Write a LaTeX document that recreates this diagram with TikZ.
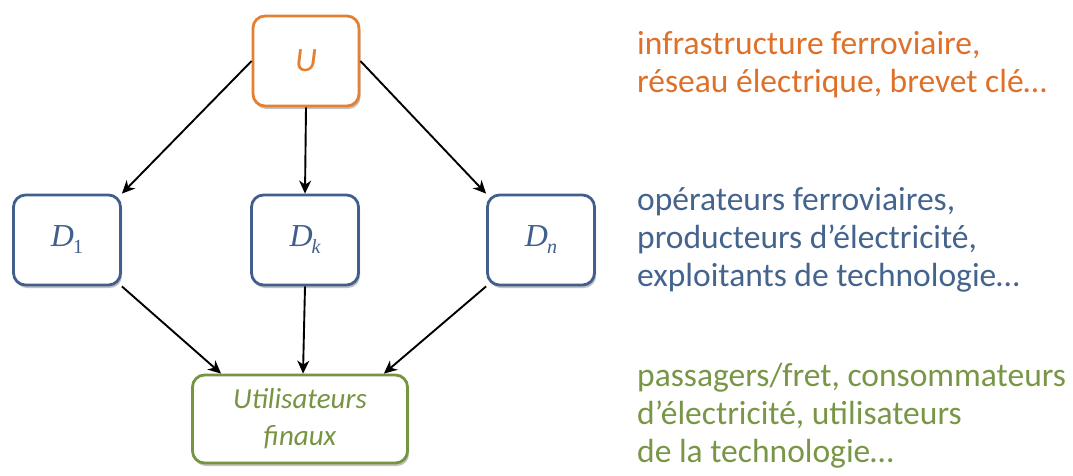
\documentclass[tikz,border=0pt]{standalone}
\usepackage{fontspec}
\setmainfont{Carlito}
\newfontfamily\dfont{Liberation Serif}
\usetikzlibrary{shadows,arrows.meta,calc}
\definecolor{uorange}{RGB}{228,128,50}
\definecolor{torange}{RGB}{222,112,42}
\definecolor{dblue}{RGB}{65,95,140}
\definecolor{tblue}{RGB}{68,100,142}
\definecolor{ugreen}{RGB}{118,148,66}
\definecolor{tgreen}{RGB}{120,150,70}
\newcommand{\Dsub}[2]{{\itshape D}\kern-1pt\raisebox{-7pt}{\fontsize{20}{22}\selectfont #2#1}}
\tikzset{
  box/.style={draw, line width=2.8pt, rounded corners=12pt, fill=white, inner sep=0pt,
    drop shadow={shadow xshift=1.5pt, shadow yshift=-3pt, opacity=0.4, fill=black!60}},
  arr/.style={draw=black, line width=1.9pt, -{Stealth[length=13pt,width=12pt,inset=4pt]}},
  side/.style={anchor=base west, inner sep=0pt, align=left, font=\fontsize{33.5}{38}\selectfont},
  dlab/.style={text=dblue, font=\fontsize{32}{36}\selectfont\dfont}
}
\begin{document}
\begin{tikzpicture}[x=1pt,y=-1pt]
\useasboundingbox (0,0) rectangle (1073,475);
\node[box, draw=uorange, minimum width=106pt, minimum height=90pt, text=uorange,
  font=\fontsize{34}{38}\selectfont\itshape] (U) at (306,61) {U};
\node[box, draw=dblue, minimum width=107pt, minimum height=90pt, dlab] (D1) at (67,240) {\Dsub{1}{\upshape}};
\node[box, draw=dblue, minimum width=107pt, minimum height=90pt, dlab] (Dk) at (305,240) {\Dsub{k}{\itshape}};
\node[box, draw=dblue, minimum width=107pt, minimum height=90pt, dlab] (Dn) at (541,240) {\Dsub{n}{\itshape}};
\node[box, draw=ugreen, minimum width=215pt, minimum height=88pt, text=ugreen, align=center,
  font=\fontsize{29}{37}\selectfont\itshape] (F) at (300,419) {Utilisateurs\\finaux};

\draw[arr] (U.west) -- (D1.north east);
\draw[arr] (U.south) -- (Dk.north);
\draw[arr] (U.east) -- (Dn.north west);
\draw[arr] (D1.south east) -- ([xshift=30pt]F.north west);
\draw[arr] (Dk.south) -- ([xshift=3pt]F.north);
\draw[arr] (Dn.south west) -- ([xshift=-25pt]F.north east);

\node[side, text=torange] (tU) at (637,92) {infrastructure ferroviaire,\\r\'eseau \'electrique, brevet cl\'e\ldots};
\node[side, text=tblue] (tD) at (637,286) {op\'erateurs ferroviaires,\\producteurs d’\'electricit\'e,\\exploitants de technologie\ldots};
\node[side, text=tgreen] (tF) at (637,462) {passagers/fret, consommateurs\\d'\'electricit\'e, utilisateurs\\de la technologie\ldots};
\end{tikzpicture}
\end{document}
